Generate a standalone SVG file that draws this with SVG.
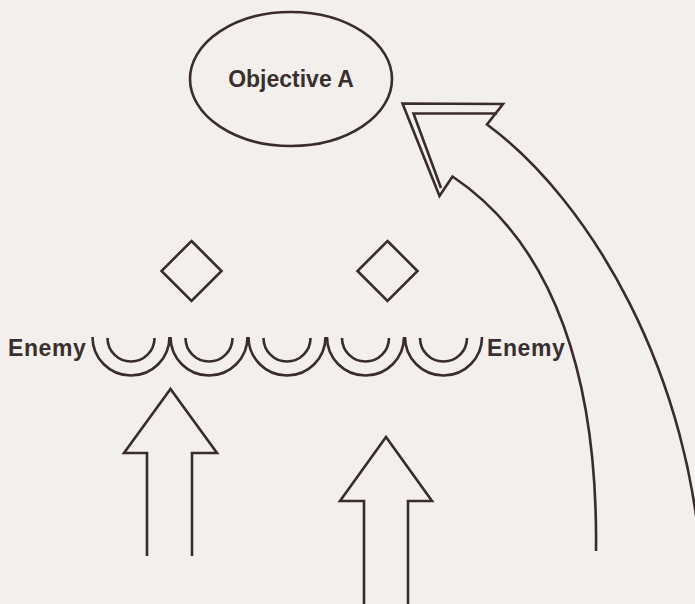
<svg xmlns="http://www.w3.org/2000/svg" width="695" height="604" viewBox="0 0 695 604">
  <style>
    .ln { fill: none; stroke: #3a2c2c; stroke-width: 2.6; stroke-linejoin: miter; }
    .lbl { font-family: "Liberation Sans", Arial, sans-serif; font-weight: bold; fill: #3a2f2f; }
  </style>
  <rect x="0" y="0" width="695" height="604" fill="#f2efed"/>

  <g id="objective-a">
    <ellipse class="ln" cx="291" cy="79" rx="101" ry="67"/>
    <text class="lbl" x="291" y="87" font-size="23" text-anchor="middle">Objective A</text>
  </g>

  <g id="diamond-1">
    <polygon class="ln" points="191.5,241 221.5,271 191.5,301 161.5,271"/>
  </g>
  <g id="diamond-2">
    <polygon class="ln" points="387.5,241 417.5,271 387.5,301 357.5,271"/>
  </g>

  <g id="enemy-line">
    <text class="lbl" x="8" y="356" font-size="23" letter-spacing="0.6">Enemy</text>
    <text class="lbl" x="487" y="356" font-size="23" letter-spacing="0.6">Enemy</text>
    <path class="ln" d="M92.5,337 A38.5,38.5 0 0 0 169.5,337 M107.5,338 A23.5,23.5 0 0 0 154.5,338"/>
    <path class="ln" d="M170.5,337 A38.5,38.5 0 0 0 247.5,337 M185.5,338 A23.5,23.5 0 0 0 232.5,338"/>
    <path class="ln" d="M248.5,337 A38.5,38.5 0 0 0 325.5,337 M263.5,338 A23.5,23.5 0 0 0 310.5,338"/>
    <path class="ln" d="M327,337 A38.5,38.5 0 0 0 404,337 M342,338 A23.5,23.5 0 0 0 389,338"/>
    <path class="ln" d="M405,337 A38.5,38.5 0 0 0 482,337 M420,338 A23.5,23.5 0 0 0 467,338"/>
  </g>

  <g id="connectors">
    <path id="arrow-1" class="ln" d="M147,556 L147,453 L124,453 L170.5,389 L217,453 L192,453 L192,556"/>
    <path id="arrow-2" class="ln" d="M364,604 L364,501 L340,501 L386,437 L432,501 L408,501 L408,604"/>
    <g id="flank-arrow">
      <path class="ln" d="M596,551 C598,380 555,245 452.5,176.5 L439.5,196 L402.5,103.5 L503,104 L487,124.5 C590,200 693,375 702,580"/>
      <path class="ln" d="M441,188 L413.5,113.5 L497,113.5"/>
    </g>
  </g>
</svg>
